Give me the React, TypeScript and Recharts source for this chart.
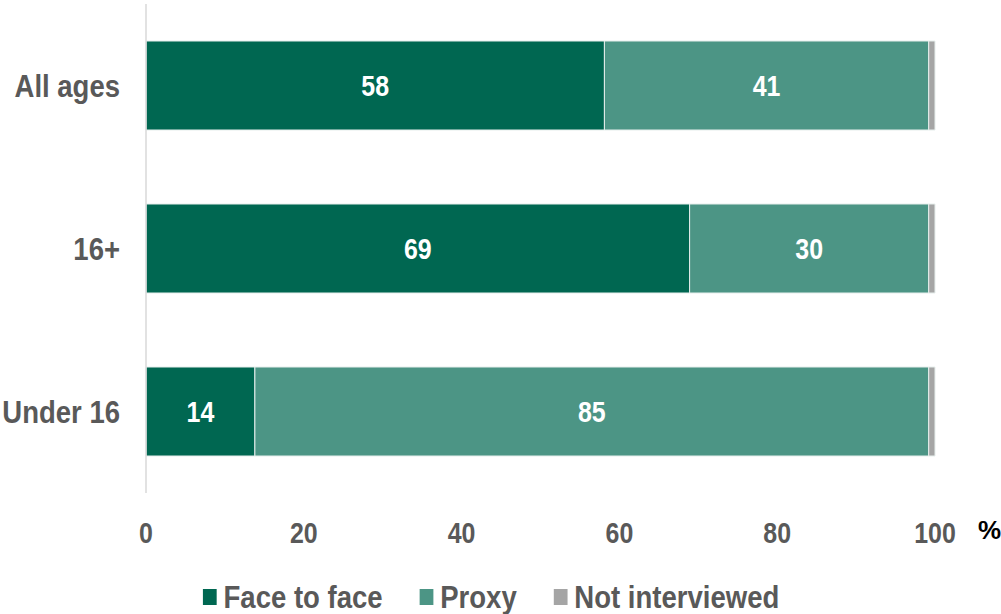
import { Bar, BarChart, LabelList, Legend, XAxis, YAxis } from "recharts";

const categories = ["All ages", "16+", "Under 16"];
const faceToFace = [58.1, 68.9, 13.8];
const proxy = [41.1, 30.3, 85.4];
const notInterviewed = [0.8, 0.8, 0.8];
const xTicks = [0, 20, 40, 60, 80, 100];

const data = categories.map((name, i) => ({
  name,
  face: faceToFace[i],
  proxy: proxy[i],
  none: notInterviewed[i],
}));

// no narrow font installed, so squeeze bold Liberation Sans horizontally
const FONT = '"Liberation Sans", Arial, sans-serif';
const SQUEEZE = 0.86;
const TEXT = "#595959";

const legendItems = [
  { label: "Face to face", color: "#006751" },
  { label: "Proxy", color: "#4c9585" },
  { label: "Not interviewed", color: "#a5a5a5" },
];

function Squeezed({ x, y, anchor, size, fill, children }: any) {
  return (
    <g transform={`translate(${x},${y}) scale(${SQUEEZE},1)`}>
      <text x={0} y={0} textAnchor={anchor} fill={fill} fontFamily={FONT} fontWeight={700} fontSize={size}>
        {children}
      </text>
    </g>
  );
}

function YTick({ x, y, payload }: any) {
  return (
    <Squeezed x={x} y={y + 11} anchor="end" size={32} fill={TEXT}>
      {payload.value}
    </Squeezed>
  );
}

function XTick({ x, y, payload }: any) {
  return (
    <Squeezed x={x} y={y + 50} anchor="middle" size={29} fill={TEXT}>
      {payload.value}
    </Squeezed>
  );
}

function BarLabel({ x, y, width, height, value }: any) {
  return (
    <Squeezed x={x + width / 2} y={y + height / 2 + 10.5} anchor="middle" size={29} fill="#fff">
      {Math.round(Number(value))}
    </Squeezed>
  );
}

function LegendBox() {
  return (
    <div
      style={{
        height: 40,
        width: 1001,
        display: "flex",
        justifyContent: "center",
        paddingRight: 18,
        paddingTop: 6,
        boxSizing: "border-box",
      }}
    >
      <div
        style={{
          display: "flex",
          gap: 43,
          alignItems: "center",
          height: 34,
          fontFamily: FONT,
          fontWeight: 700,
          fontSize: 32,
          color: TEXT,
          transform: `scaleX(${SQUEEZE})`,
          transformOrigin: "center",
          whiteSpace: "nowrap",
        }}
      >
        {legendItems.map((it) => (
          <span key={it.label} style={{ display: "flex", alignItems: "center" }}>
            <span
              style={{
                display: "inline-block",
                width: 16,
                height: 16,
                background: it.color,
                marginRight: 8,
              }}
            />
            {it.label}
          </span>
        ))}
      </div>
    </div>
  );
}

export default function App() {
  return (
    <div style={{ position: "absolute", left: 0, top: 0, width: 1001, height: 614, background: "#fff" }}>
      <BarChart
        width={1001}
        height={614}
        data={data}
        layout="vertical"
        barSize={89}
        margin={{ top: 4, right: 66, left: 0, bottom: 0 }}
      >
        <XAxis
          type="number"
          domain={[0, 100]}
          ticks={xTicks}
          axisLine={false}
          tickLine={false}
          tickSize={0}
          tickMargin={0}
          height={81}
          tick={<XTick />}
          label={{
            value: "%",
            position: "insideTopRight",
            offset: 0,
            dx: 66,
            dy: 28,
            fill: "#000",
            fontFamily: FONT,
            fontWeight: 700,
            fontSize: 26,
          }}
        />
        <YAxis
          type="category"
          dataKey="name"
          width={146}
          axisLine={{ stroke: "#d9d9d9", strokeWidth: 1.5 }}
          tickLine={false}
          tickSize={0}
          tickMargin={26}
          tick={<YTick />}
        />
        <Legend verticalAlign="bottom" height={40} content={() => <LegendBox />} />
        <Bar dataKey="face" stackId="a" fill="#006751" stroke="#e6eeec" strokeWidth={1} isAnimationActive={false}>
          <LabelList dataKey="face" content={<BarLabel />} />
        </Bar>
        <Bar dataKey="proxy" stackId="a" fill="#4c9585" stroke="#e6eeec" strokeWidth={1} isAnimationActive={false}>
          <LabelList dataKey="proxy" content={<BarLabel />} />
        </Bar>
        <Bar dataKey="none" stackId="a" fill="#a5a5a5" stroke="#e6eeec" strokeWidth={1} isAnimationActive={false} />
      </BarChart>
    </div>
  );
}
